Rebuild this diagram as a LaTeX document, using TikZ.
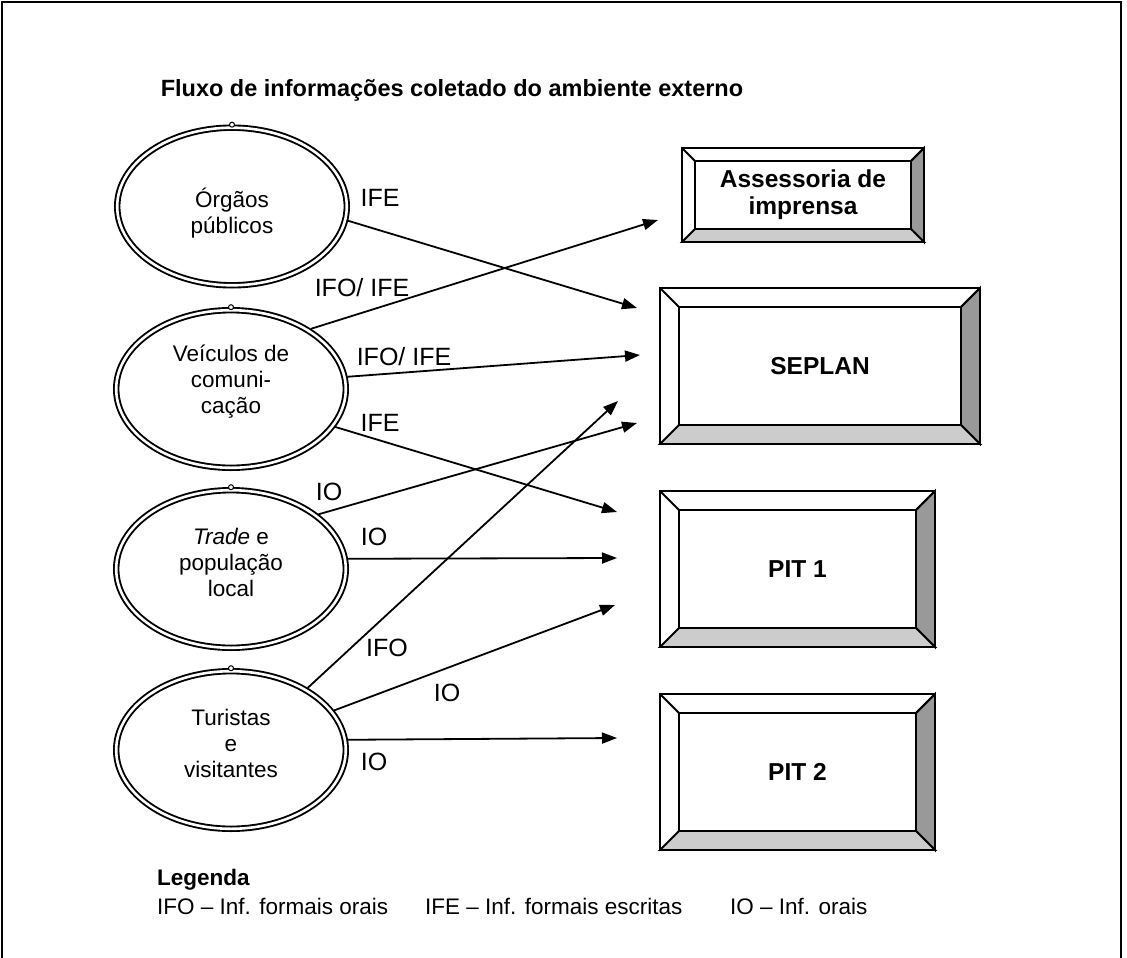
\documentclass[tikz,border=0pt]{standalone}
\usepackage{fontspec}
\setmainfont{Liberation Sans}
\usetikzlibrary{shapes.geometric,arrows.meta,calc}
\pgfdeclarelayer{bg}
\pgfsetlayers{bg,main}
\definecolor{bevelside}{HTML}{999999}
\definecolor{bevelfoot}{HTML}{CCCCCC}

% raised frame around an existing rectangular node: #1 node name, #2 bevel size
\newcommand\bevelframe[2]{%
  \coordinate (#1-nw) at ($(#1.north west)+(-#2,-#2)$);
  \coordinate (#1-ne) at ($(#1.north east)+(#2,-#2)$);
  \coordinate (#1-se) at ($(#1.south east)+(#2,#2)$);
  \coordinate (#1-sw) at ($(#1.south west)+(-#2,#2)$);
  \begin{pgfonlayer}{bg}
    \filldraw[boxline, fill=white] (#1-nw) rectangle (#1-se);
    \filldraw[boxline, fill=bevelside] (#1-ne) -- (#1-se) -- (#1.south east) -- (#1.north east) -- cycle;
    \filldraw[boxline, fill=bevelfoot] (#1-sw) -- (#1-se) -- (#1.south east) -- (#1.south west) -- cycle;
    \draw[boxline] (#1-nw) -- (#1.north west) (#1-ne) -- (#1.north east);
  \end{pgfonlayer}}

\begin{document}
\begin{tikzpicture}[x=1pt,y=-1pt,
  boxline/.style={line width=1.9pt, line join=miter},
  src/.style={ellipse, draw, double, double distance=2.6pt, line width=1.9pt,
    minimum width=229.6pt, minimum height=157.6pt, inner sep=0pt, outer sep=3pt},
  srctext/.style={align=center, inner sep=0pt, font=\fontsize{22.5}{26}\selectfont},
  dst/.style={draw, boxline, fill=white, align=center, inner sep=0pt, outer sep=0pt,
    font=\bfseries\fontsize{24.5}{27}\selectfont},
  knob/.style={circle, draw, fill=white, line width=1pt, minimum size=5pt, inner sep=0pt},
  flow/.style={line width=1.8pt, -{Triangle[length=15pt,width=11pt]}},
  lbl/.style={inner sep=0pt, font=\fontsize{25}{28}\selectfont},
  legend/.style={anchor=west, inner sep=0pt, font=\fontsize{22.5}{26}\selectfont},
]
\useasboundingbox (0,0) rectangle (1127,958);

% outer frame, open at the bottom
\draw[line width=1.4pt] (2,958) -- (2,2) -- (1121,2) -- (1121,958);

\node[font=\bfseries\fontsize{23.5}{27}\selectfont] (title) at (452,90)
  {Fluxo de informações coletado do ambiente externo};

% sources
\node[src] (e1) at (232,206.5) {};
\node[src] (e2) at (231,389) {};
\node[src] (e3) at (231,569) {};
\node[src] (e4) at (231,750) {};
\foreach \e in {e1,e2,e3,e4} \node[knob] (\e-knob) at (\e.north) {};
\node[srctext] (e1-text) at ($(e1)+(0,7)$) {Órgãos\\públicos};
\node[srctext] (e2-text) at ($(e2)+(0,-7)$) {Veículos de\\comuni-\\cação};
\node[srctext] (e3-text) at ($(e3)+(0,-7)$) {\textit{Trade} e\\população\\local};
\node[srctext] (e4-text) at ($(e4)+(0,-7)$) {Turistas\\e\\visitantes};

% receivers
\node[dst, minimum width=216pt, minimum height=68pt] (press) at (803,195) {Assessoria de\\imprensa};
\node[dst, minimum width=282pt, minimum height=118pt] (seplan) at (820,366) {SEPLAN};
\node[dst, minimum width=237pt, minimum height=118pt] (pit1) at (797.5,569) {PIT 1};
\node[dst, minimum width=237pt, minimum height=118pt] (pit2) at (797.5,772) {PIT 2};
\bevelframe{press}{13}
\bevelframe{seplan}{19}
\bevelframe{pit1}{19}
\bevelframe{pit2}{19}

% arrow ends in front of the receivers
\coordinate (t1) at (637,308);
\coordinate (t2) at (658,220);
\coordinate (t3) at (640,355);
\coordinate (t4) at (617,512);
\coordinate (t5) at (637,423);
\coordinate (t6) at (617,558);
\coordinate (t7) at (618,401);
\coordinate (t8) at (615,605);
\coordinate (t9) at (617,738);

\draw[flow] (e1.-7) -- (t1);
\draw[flow] (e2.37) -- (t2);
\draw[flow] (e2.6) -- (t3);
\draw[flow] (e2.-20) -- (t4);
\draw[flow] (e3.32) -- (t5);
\draw[flow] (e3.5.4) -- (t6);
\draw[flow] (e4.39) -- (t7);
\draw[flow] (e4.21) -- (t8);
\draw[flow] (e4.5.4) -- (t9);

% flow labels
\node[lbl] (l1) at (380,198) {IFE};
\node[lbl] (l2) at (362,288) {IFO/ IFE};
\node[lbl] (l3) at (404,357) {IFO/ IFE};
\node[lbl] (l4) at (380,423) {IFE};
\node[lbl] (l5) at (329,492) {IO};
\node[lbl] (l6) at (374,537) {IO};
\node[lbl] (l7) at (387,648) {IFO};
\node[lbl] (l8) at (447,693) {IO};
\node[lbl] (l9) at (374,762) {IO};

% legend
\node[legend, font=\bfseries\fontsize{22.5}{26}\selectfont] (legtitle) at (157,880) {Legenda};
\node[legend] (leg1) at (157,906) {IFO – Inf. formais orais};
\node[legend] (leg2) at (425,906) {IFE – Inf. formais escritas};
\node[legend] (leg3) at (730,906) {IO – Inf. orais};
\end{tikzpicture}
\end{document}
